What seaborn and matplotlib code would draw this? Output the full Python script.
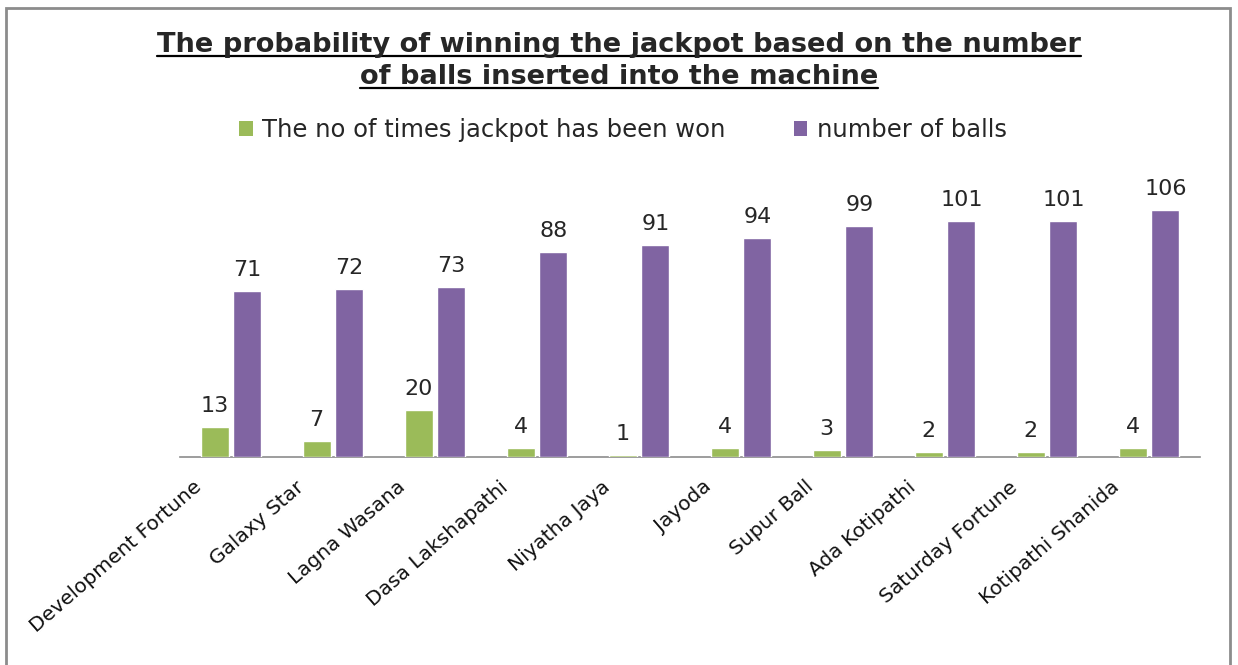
import matplotlib
matplotlib.use('Agg')
import matplotlib.pyplot as plt
import matplotlib.transforms as mtrans
from matplotlib.patches import Rectangle, Patch
from matplotlib.lines import Line2D
import seaborn as sns
import pandas as pd

# -- datos del grafico
loterias = ['Development Fortune', 'Galaxy Star', 'Lagna Wasana', 'Dasa Lakshapathi',
            'Niyatha Jaya', 'Jayoda', 'Supur Ball', 'Ada Kotipathi', 'Saturday Fortune',
            'Kotipathi Shanida']
jackpots = [13, 7, 20, 4, 1, 4, 3, 2, 2, 4]
bolas = [71, 72, 73, 88, 91, 94, 99, 101, 101, 106]
serie_1 = 'The no of times jackpot has been won'
serie_2 = 'number of balls'
titulo = ['The probability of winning the jackpot based on the number',
          'of balls inserted into the machine']

verde = '#9BBB59'
morado = '#8064A2'

df = pd.DataFrame({
    'loteria': loterias * 2,
    'valor': jackpots + bolas,
    'serie': [serie_1] * len(loterias) + [serie_2] * len(loterias),
})

sns.set_style('white')
plt.rcParams['font.family'] = ['DejaVu Sans']

fig = plt.figure(figsize=(12.38, 6.65), dpi=100)
ax = fig.add_axes([0.1454, 0.3128, 0.8239, 0.421])

sns.barplot(data=df, x='loteria', y='valor', hue='serie', palette=[verde, morado],
            width=0.64, gap=0.15, ax=ax, legend=False, saturation=1, zorder=3)

for cont in ax.containers:
    ax.bar_label(cont, padding=8, fontsize=16, color='#262626')

ax.set_ylim(0, 120)
ax.set_xlim(-0.5, len(loterias) - 0.5)
ax.set_xlabel('')
ax.set_ylabel('')
ax.set_yticks([])
for s in ['top', 'right', 'left']:
    ax.spines[s].set_visible(False)
ax.spines['bottom'].set_color('#8c8c8c')
ax.spines['bottom'].set_linewidth(1.2)
ax.spines['bottom'].set_zorder(1)
ax.tick_params(axis='x', length=0, pad=6)
desplaza = mtrans.ScaledTranslation(-38 / 100, -12 / 100, fig.dpi_scale_trans)
for lab in ax.get_xticklabels():
    lab.set_rotation(41)
    lab.set_ha('right')
    lab.set_rotation_mode('anchor')
    lab.set_fontsize(14.5)
    lab.set_color('#111111')
    lab.set_transform(lab.get_transform() + desplaza)

# -- leyenda
handles = [Patch(facecolor=verde, edgecolor='none'), Patch(facecolor=morado, edgecolor='none')]
fig.legend(handles, [serie_1, serie_2], loc='center', bbox_to_anchor=(623 / 1238, 1 - 130 / 665),
           ncol=2, frameon=False, fontsize=17.5, handlelength=0.55, handleheight=0.55,
           handletextpad=0.4, columnspacing=2.8)

# -- titulo subrayado
t1 = fig.text(0.5, 1 - 45 / 665, titulo[0], ha='center', va='center', fontsize=19.6,
              fontweight='bold')
t2 = fig.text(0.5, 1 - 77 / 665, titulo[1], ha='center', va='center', fontsize=19.6,
              fontweight='bold')
fig.canvas.draw()
r = fig.canvas.get_renderer()
W, H = fig.bbox.width, fig.bbox.height
for t in (t1, t2):
    bb = t.get_window_extent(r)
    y = (bb.y0 + 2) / H
    fig.add_artist(Line2D([bb.x0 / W, bb.x1 / W], [y, y], color='black', lw=1.6))

# -- marco
fig.add_artist(Rectangle((6 / 1238, -0.02), 1 - 14 / 1238, 1 - 8 / 665 + 0.02,
                         fill=False, edgecolor='#8c8c8c', lw=2, transform=fig.transFigure))

fig.savefig('out.png', dpi=100)
